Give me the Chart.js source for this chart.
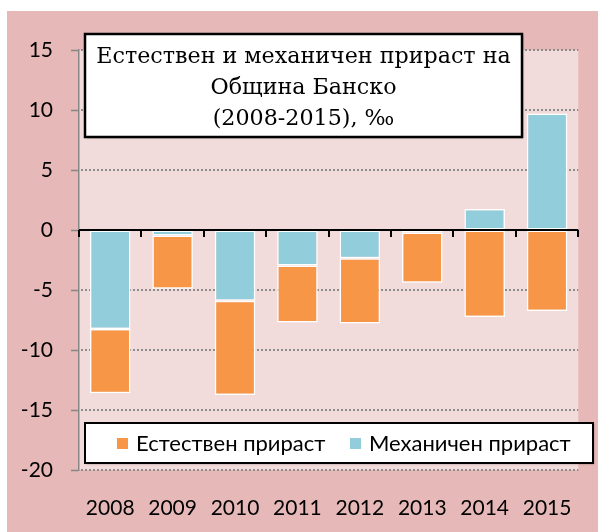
<!DOCTYPE html>
<html>
<head>
<meta charset="utf-8">
<script src="https://cdn.jsdelivr.net/npm/chart.js@4.4.1/dist/chart.umd.min.js"></script>
<style>
  html, body { margin: 0; padding: 0; background: #fff; }
  #wrap { width: 598px; height: 532px; }
</style>
</head>
<body>
<div id="wrap"><canvas id="chart" width="598" height="532"></canvas></div>
<script>
// Естествен и механичен прираст, Община Банско 2008-2015 (‰)
const years = ['2008', '2009', '2010', '2011', '2012', '2013', '2014', '2015'];
const naturalGrowth = [-5.35, -4.45, -7.85, -4.75, -5.45, -4.2, -7.25, -6.75];
const mechanicalGrowth = [-8.25, -0.45, -5.9, -2.95, -2.35, -0.2, 1.75, 9.7];
const yMin = -20;
const yMax = 15;
const yStep = 5;
const titleLines = ['Естествен и механичен прираст на', 'Община Банско', '(2008-2015), ‰'];
const seriesNames = ['Естествен прираст', 'Механичен прираст'];

const ORANGE = '#F79646';
const BLUE = '#92CDDC';
const SANS = 'Lato, "Noto Sans", sans-serif';
const SERIF = '"DejaVu Serif", serif';

// Backgrounds: outer pink frame + lighter plot area + dotted grid
const backgroundPlugin = {
    id: 'backgrounds',
    beforeDraw(chart) {
        const { ctx, chartArea } = chart;
        ctx.save();
        ctx.fillStyle = '#ffffff';
        ctx.fillRect(0, 0, chart.width, chart.height);
        ctx.fillStyle = '#E6B9B8';
        ctx.fillRect(7, 11, chart.width - 7, chart.height - 11);
        ctx.fillStyle = '#F2DCDB';
        ctx.fillRect(chartArea.left, chartArea.top, chartArea.right - chartArea.left, chartArea.bottom - chartArea.top);
        ctx.restore();
    },
    beforeDatasetsDraw(chart) {
        const { ctx, chartArea, scales } = chart;
        ctx.save();
        ctx.strokeStyle = '#8c8c8c';
        ctx.lineWidth = 2;
        ctx.setLineDash([2, 2]);
        scales.y.ticks.forEach(t => {
            if (t.value === 0) return;
            const y = Math.round(scales.y.getPixelForValue(t.value));
            ctx.beginPath();
            ctx.moveTo(chartArea.left + 2, y);
            ctx.lineTo(chartArea.right, y);
            ctx.stroke();
        });
        ctx.restore();
    }
};

// Zero line with category tick marks
const zeroLinePlugin = {
    id: 'zeroLine',
    afterDatasetsDraw(chart) {
        const { ctx, chartArea, scales } = chart;
        const y0 = scales.y.getPixelForValue(0);
        const n = years.length;
        const step = (chartArea.right - chartArea.left) / n;
        ctx.save();
        ctx.strokeStyle = '#000';
        ctx.lineWidth = 2;
        ctx.beginPath();
        ctx.moveTo(chartArea.left, y0);
        ctx.lineTo(chartArea.right, y0);
        for (let i = 0; i <= n; i++) {
            const x = Math.round(chartArea.left + i * step);
            ctx.moveTo(x, y0);
            ctx.lineTo(x, y0 + 7);
        }
        ctx.stroke();
        ctx.restore();
    }
};

// Title box and legend box inside the plot
const boxesPlugin = {
    id: 'boxes',
    afterDraw(chart) {
        const ctx = chart.ctx;
        ctx.save();

        // title box
        ctx.shadowColor = 'rgba(0,0,0,0.35)';
        ctx.shadowOffsetX = 1;
        ctx.shadowOffsetY = 1;
        ctx.shadowBlur = 2;
        ctx.fillStyle = '#fff';
        ctx.fillRect(85, 34, 437, 103);
        ctx.shadowColor = 'transparent';
        ctx.strokeStyle = '#000';
        ctx.lineWidth = 2.5;
        ctx.strokeRect(85, 34, 437, 103);

        let size = 24;
        ctx.font = size + 'px ' + SERIF;
        const w = ctx.measureText(titleLines[0]).width;
        size = size * 415 / w;
        ctx.font = size.toFixed(1) + 'px ' + SERIF;
        ctx.fillStyle = '#000';
        ctx.textAlign = 'center';
        ctx.textBaseline = 'alphabetic';
        const baselines = [63, 94, 125];
        titleLines.forEach((line, i) => ctx.fillText(line, 303.5, baselines[i]));

        // legend box
        ctx.shadowColor = 'rgba(0,0,0,0.35)';
        ctx.shadowOffsetX = 1;
        ctx.shadowOffsetY = 1;
        ctx.shadowBlur = 2;
        ctx.fillStyle = '#fff';
        ctx.fillRect(85, 423, 508, 40);
        ctx.shadowColor = 'transparent';
        ctx.lineWidth = 2;
        ctx.strokeRect(85, 423, 508, 40);

        const ds = chart.data.datasets;
        const items = [ds[1], ds[0]];
        const xs = [117, 350];
        ctx.font = '22px ' + SANS;
        ctx.textAlign = 'left';
        ctx.textBaseline = 'middle';
        items.forEach((d, i) => {
            ctx.fillStyle = d.backgroundColor;
            ctx.fillRect(xs[i], 438, 11, 11);
            ctx.fillStyle = '#000';
            ctx.fillText(d.label, xs[i] + 19, 444);
        });
        ctx.restore();
    }
};

const ctx = document.getElementById('chart').getContext('2d');
new Chart(ctx, {
    type: 'bar',
    data: {
        labels: years,
        datasets: [
            {
                label: seriesNames[1],
                data: mechanicalGrowth,
                backgroundColor: BLUE,
                borderColor: '#ffffff',
                borderWidth: 1.5,
                borderSkipped: false
            },
            {
                label: seriesNames[0],
                data: naturalGrowth,
                backgroundColor: ORANGE,
                borderColor: '#ffffff',
                borderWidth: 1.5,
                borderSkipped: false
            }
        ]
    },
    options: {
        responsive: false,
        animation: false,
        layout: { padding: { top: 50, right: 9, left: 0, bottom: 0 } },
        datasets: {
            bar: { categoryPercentage: 1, barPercentage: 0.65 }
        },
        plugins: {
            legend: { display: false },
            title: { display: false },
            tooltip: { enabled: false }
        },
        scales: {
            x: {
                stacked: true,
                grid: { display: false, drawTicks: false },
                border: { display: false },
                ticks: { color: '#000', font: { family: SANS, size: 21 }, padding: 26 },
                afterFit(scale) { scale.height = 62; }
            },
            y: {
                stacked: true,
                min: yMin,
                max: yMax,
                ticks: { stepSize: yStep, color: '#000', font: { family: SANS, size: 21 }, padding: 18 },
                grid: {
                    drawOnChartArea: false,
                    tickLength: 8,
                    tickColor: '#868686',
                    tickWidth: 1.5
                },
                border: { display: true, color: '#868686', width: 1.5 },
                afterFit(scale) { scale.width = 79; }
            }
        }
    },
    plugins: [backgroundPlugin, zeroLinePlugin, boxesPlugin]
});
</script>
</body>
</html>
